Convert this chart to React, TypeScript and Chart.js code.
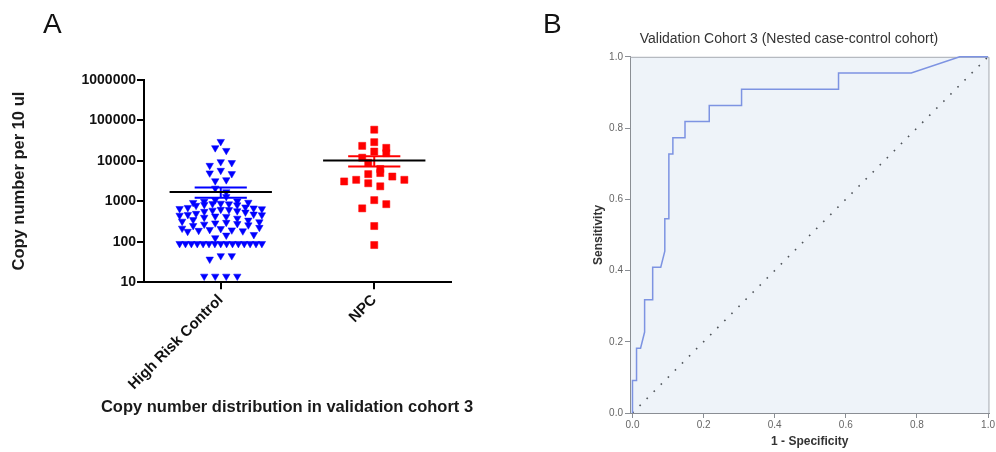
import React, { useEffect, useRef } from "react";
import { Chart, registerables } from "chart.js";

Chart.register(...registerables);
Chart.defaults.font.family = '"Liberation Sans", Arial, sans-serif';

// ---------------- DATA ----------------
const categories = ["High Risk Control", "NPC"];

const controlValues = [
  30000, 21000, 18000, 9500, 9000, 7700, 5800, 5000, 4800, 3400, 3200,
  2100, 1700, 1300,
  1080, 1010, 990, 940, 930, 890, 870, 860, 830, 810, 790,
  720, 700, 680, 660, 650, 630, 620, 600, 580, 560, 540,
  500, 480, 470, 460, 450, 430, 420, 400, 380,
  350, 340, 320, 310, 300, 290, 280, 270, 260, 250,
  225, 215, 210, 200, 195, 190, 185, 180,
  150, 145, 125,
  90, 90, 90, 90, 90, 90, 90, 90, 90, 90, 90, 90, 90, 90, 90,
  45, 37, 45,
  14, 14, 14, 14,
];

const npcValues = [
  59000, 29000, 23500, 21000, 17000, 15500, 12000, 9000, 6300, 5000, 4700,
  4100, 3400, 3400, 3100, 2800, 2350, 1070, 850, 670, 245, 83,
];

const yTicksA = [10, 100, 1000, 10000, 100000, 1000000];

const rocFpr = [
  0, 0, 0.0114, 0.0114, 0.0227, 0.0341, 0.0341, 0.0568, 0.0568, 0.0795,
  0.0909, 0.0909, 0.1023, 0.1023, 0.1136, 0.1136, 0.1477, 0.1477, 0.2159,
  0.2159, 0.3068, 0.3068, 0.5795, 0.5795, 0.7841, 0.9205, 1.0,
];
const rocTpr = [
  0, 0.0909, 0.0909, 0.1818, 0.1818, 0.2273, 0.3182, 0.3182, 0.4091, 0.4091,
  0.4545, 0.5455, 0.5455, 0.7273, 0.7273, 0.7727, 0.7727, 0.8182, 0.8182,
  0.8636, 0.8636, 0.9091, 0.9091, 0.9545, 0.9545, 1.0, 1.0,
];
const refLine = [0, 1];
const rocTicks = [0, 0.2, 0.4, 0.6, 0.8, 1.0];

const titleA_y = "Copy number per 10 ul";
const titleA_x = "Copy number distribution in validation cohort 3";
const titleB = "Validation Cohort 3 (Nested case-control cohort)";
const titleB_y = "Sensitivity";
const titleB_x = "1 - Specificity";

// ---------------- LAYOUT CONSTANTS ----------------
const PX_PER_CAT = 153;
const PX_PER_DECADE = 40.3;
const MEAN_HALF = 51 / PX_PER_CAT;
const SEM_HALF = 26 / PX_PER_CAT;

function stats(v: number[]) {
  const n = v.length;
  const mean = v.reduce((a, b) => a + b, 0) / n;
  const sd = Math.sqrt(v.reduce((a, b) => a + (b - mean) * (b - mean), 0) / (n - 1));
  return { mean, sem: sd / Math.sqrt(n) };
}

// Prism-like column scatter: group values into rows, spread each row centred
function columnScatter(values: number[], rowH: number, spacing: number, halfW: number): number[] {
  const order = values.map((_, i) => i).sort((a, b) => values[b] - values[a]);
  const ypx = (v: number) => Math.log10(v) * PX_PER_DECADE;
  const rows: number[][] = [];
  let start = Infinity;
  for (const i of order) {
    const y = ypx(values[i]);
    if (rows.length === 0 || start - y >= rowH) {
      rows.push([i]);
      start = y;
    } else {
      rows[rows.length - 1].push(i);
    }
  }
  const out = new Array(values.length).fill(0);
  rows.forEach((row, ri) => {
    const n = row.length;
    const sp = n > 1 ? Math.min(spacing, (2 * halfW) / (n - 1)) : 0;
    const slots = Array.from({ length: n }, (_, j) => (j - (n - 1) / 2) * sp);
    const sorted = slots.slice().sort((a, b) => Math.abs(a) - Math.abs(b) || (ri % 2 ? a - b : b - a));
    row.forEach((idx, j) => {
      out[idx] = sorted[j] / PX_PER_CAT;
    });
  });
  return out;
}

function buildA(): any {
  const groups = [
    { values: controlValues, color: "#0000ff", style: "triangle", rotation: 180, radius: 4.3, rowH: 6, sp: 11, hw: 41 },
    { values: npcValues, color: "#ff0000", style: "rect", rotation: 0, radius: 5, rowH: 9, sp: 12, hw: 40 },
  ];
  const datasets: any[] = [];
  groups.forEach((g, gi) => {
    const c = gi + 1;
    const offs = columnScatter(g.values, g.rowH, g.sp, g.hw);
    datasets.push({
      data: g.values.map((v, i) => ({ x: c + offs[i], y: v })),
      pointStyle: g.style,
      rotation: g.rotation,
      pointRadius: g.radius,
      pointBackgroundColor: g.color,
      pointBorderColor: g.color,
      pointBorderWidth: 0.5,
      showLine: false,
      clip: false,
      order: 2,
    });
    const s = stats(g.values);
    const lo = s.mean - s.sem;
    const hi = s.mean + s.sem;
    const line = (pts: { x: number; y: number }[], color: string, order: number) => ({
      data: pts,
      showLine: true,
      borderColor: color,
      borderWidth: 2,
      pointRadius: 0,
      clip: false,
      order,
    });
    datasets.push(line([{ x: c - SEM_HALF, y: hi }, { x: c + SEM_HALF, y: hi }], g.color, 1));
    datasets.push(line([{ x: c - SEM_HALF, y: lo }, { x: c + SEM_HALF, y: lo }], g.color, 1));
    datasets.push(line([{ x: c, y: lo }, { x: c, y: hi }], g.color, 1));
    datasets.push(line([{ x: c - MEAN_HALF, y: s.mean }, { x: c + MEAN_HALF, y: s.mean }], "#000", 0));
  });

  return {
    type: "scatter",
    data: { datasets },
    options: {
      responsive: false,
      animation: false,
      devicePixelRatio: 1,
      layout: { padding: { left: 6, top: 80, right: 0, bottom: 35 } },
      plugins: {
        legend: { display: false },
        tooltip: { enabled: false },
        title: {
          display: true,
          position: "bottom",
          text: titleA_x,
          color: "#1a1a1a",
          font: { size: 16.5, weight: "bold" },
          padding: { top: 0, bottom: 0 },
        },
      },
      scales: {
        x: {
          type: "linear",
          min: 0.5,
          max: categories.length + 0.5,
          afterBuildTicks: (axis: any) => {
            axis.ticks = categories.map((_, i) => ({ value: i + 1 }));
          },
          afterFit: (s: any) => {
            s.height = 115;
          },
          ticks: {
            autoSkip: false,
            minRotation: 45,
            maxRotation: 45,
            padding: 2,
            color: "#111",
            font: { size: 15, weight: "bold" },
            callback: (v: any) => categories[Math.round(Number(v)) - 1] ?? "",
          },
          border: { display: true, color: "#000", width: 2 },
          grid: { display: true, drawOnChartArea: false, drawTicks: true, tickLength: 7, color: "#000", lineWidth: 2 },
        },
        y: {
          type: "logarithmic",
          min: yTicksA[0],
          max: yTicksA[yTicksA.length - 1],
          afterBuildTicks: (axis: any) => {
            axis.ticks = yTicksA.map((v) => ({ value: v }));
          },
          afterFit: (s: any) => {
            s.width = 138;
          },
          ticks: {
            padding: 1,
            color: "#111",
            font: { size: 14, weight: "bold" },
            callback: (v: any) => String(v),
          },
          border: { display: true, color: "#000", width: 2 },
          grid: { display: true, drawOnChartArea: false, drawTicks: true, tickLength: 7, color: "#000", lineWidth: 2 },
          title: {
            display: true,
            text: titleA_y,
            color: "#1a1a1a",
            font: { size: 16.5, weight: "bold" },
            padding: { top: 4, bottom: 4 },
          },
        },
        // empty right-hand spacer so the bottom caption can be centred on the canvas
        spacer: {
          type: "linear",
          position: "right",
          display: true,
          ticks: { display: false },
          grid: { display: false },
          border: { display: false },
          afterFit: (s: any) => {
            s.width = 117;
          },
        },
      },
    },
  };
}

const plotFrame = {
  id: "plotFrame",
  beforeDraw(chart: any) {
    const { ctx, chartArea: a } = chart;
    ctx.save();
    ctx.fillStyle = "#eef3f9";
    ctx.fillRect(a.left, a.top, a.right - a.left, a.bottom - a.top);
    ctx.restore();
  },
  beforeDatasetsDraw(chart: any) {
    const { ctx, chartArea: a } = chart;
    ctx.save();
    ctx.strokeStyle = "#a8acb2";
    ctx.lineWidth = 1;
    ctx.beginPath();
    ctx.moveTo(a.left, a.top + 0.5);
    ctx.lineTo(a.right - 0.5, a.top + 0.5);
    ctx.lineTo(a.right - 0.5, a.bottom);
    ctx.stroke();
    ctx.restore();
  },
};

function buildB(): any {
  return {
    type: "scatter",
    data: {
      datasets: [
        {
          data: rocFpr.map((x, i) => ({ x, y: rocTpr[i] })),
          showLine: true,
          borderColor: "#7d93e2",
          borderWidth: 1.5,
          pointRadius: 0,
          clip: false,
          order: 0,
        },
        {
          data: refLine.map((v) => ({ x: v, y: v })),
          showLine: true,
          borderColor: "#4f545a",
          borderWidth: 1.6,
          borderDash: [1.6, 8.4],
          pointRadius: 0,
          order: 1,
        },
      ],
    },
    plugins: [plotFrame],
    options: {
      responsive: false,
      animation: false,
      devicePixelRatio: 1,
      layout: { padding: { left: 6, top: 31, right: 5, bottom: 3 } },
      plugins: {
        legend: { display: false },
        tooltip: { enabled: false },
        title: {
          display: true,
          text: titleB,
          color: "#333",
          font: { size: 14, weight: "normal" },
          padding: { top: 0, bottom: 9 },
        },
      },
      scales: {
        x: {
          type: "linear",
          min: -0.007,
          max: 1.004,
          afterBuildTicks: (axis: any) => {
            axis.ticks = rocTicks.map((v) => ({ value: v }));
          },
          afterFit: (s: any) => {
            s.height = 36;
          },
          ticks: {
            padding: 1,
            color: "#666",
            font: { size: 10 },
            callback: (v: any) => Number(v).toFixed(1),
          },
          border: { display: true, color: "#8a8e94", width: 1 },
          grid: { display: true, drawOnChartArea: false, drawTicks: true, tickLength: 5, color: "#8a8e94", lineWidth: 1 },
          title: {
            display: true,
            text: titleB_x,
            color: "#333",
            font: { size: 12, weight: "bold" },
            padding: { top: 0, bottom: 0 },
          },
        },
        y: {
          type: "linear",
          min: 0,
          max: 1,
          afterBuildTicks: (axis: any) => {
            axis.ticks = rocTicks.map((v) => ({ value: v }));
          },
          afterFit: (s: any) => {
            s.width = 43;
          },
          ticks: {
            padding: 2,
            color: "#666",
            font: { size: 10 },
            callback: (v: any) => Number(v).toFixed(1),
          },
          border: { display: true, color: "#8a8e94", width: 1 },
          grid: { display: true, drawOnChartArea: false, drawTicks: true, tickLength: 5, color: "#8a8e94", lineWidth: 1 },
          title: {
            display: true,
            text: titleB_y,
            color: "#333",
            font: { size: 12, weight: "bold" },
            padding: { top: 4, bottom: 0 },
          },
        },
      },
    },
  };
}

const labelStyle: React.CSSProperties = {
  position: "absolute",
  font: '28px "Liberation Sans", Arial, sans-serif',
  lineHeight: "28px",
  color: "#111",
};

export default function App() {
  const refA = useRef<HTMLCanvasElement>(null);
  const refB = useRef<HTMLCanvasElement>(null);
  useEffect(() => {
    const a = new Chart(refA.current as HTMLCanvasElement, buildA());
    const b = new Chart(refB.current as HTMLCanvasElement, buildB());
    return () => {
      a.destroy();
      b.destroy();
    };
  }, []);
  return (
    <div style={{ position: "fixed", left: 0, top: 0, width: 996, height: 452, background: "#fff", overflow: "hidden" }}>
      <canvas ref={refA} width={568} height={452} style={{ position: "absolute", left: 0, top: 0, width: 568, height: 452 }} />
      <canvas ref={refB} width={415} height={452} style={{ position: "absolute", left: 581, top: 0, width: 415, height: 452 }} />
      <div style={{ ...labelStyle, left: 43, top: 10 }}>A</div>
      <div style={{ ...labelStyle, left: 543, top: 10 }}>B</div>
    </div>
  );
}
